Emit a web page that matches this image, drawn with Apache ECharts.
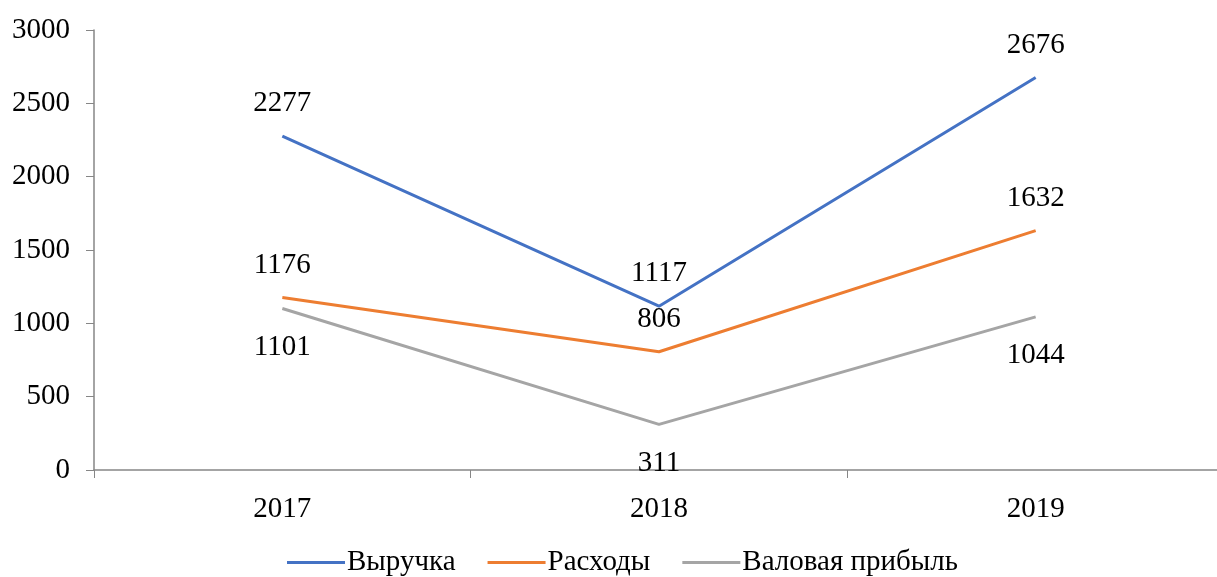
<!DOCTYPE html>
<html><head><meta charset="utf-8">
<script src="https://cdn.jsdelivr.net/npm/echarts@6/dist/echarts.min.js"></script>
<style>html,body{margin:0;padding:0;background:#fff;overflow:hidden;width:1217px;height:577px}#c{width:1230px;height:577px}</style>
</head><body><div id="c"></div>
<script>
const categories = ['2017', '2018', '2019'];
const revenue = [2277, 1117, 2676];
const expenses = [1176, 806, 1632];
const grossProfit = [1101, 311, 1044];
const yTicks = [0, 500, 1000, 1500, 2000, 2500, 3000];

const FONT = 'Liberation Serif';
const FS = 29;
const chart = echarts.init(document.getElementById('c'));
function s(name, data, color, pos, dist) {
  return {
    name, type: 'line', data, showSymbol: true, symbol: 'circle', symbolSize: 0.1,
    lineStyle: { color, width: 3 }, itemStyle: { color },
    label: { show: true, position: pos, distance: dist, color: '#000', fontFamily: FONT, fontSize: FS },
    emphasis: { disabled: true }, animation: false
  };
}
chart.setOption({
  animation: false,
  textStyle: { fontFamily: FONT },
  grid: { left: 94, right: 6, top: 30, height: 440, containLabel: false },
  legend: {
    top: 543, left: 282, itemWidth: 58, itemHeight: 3, itemGap: 32,
    icon: 'rect',
    textStyle: { fontFamily: FONT, fontSize: FS, color: '#000', padding: [0, 0, 0, -3] },
    data: ['Выручка', 'Расходы', 'Валовая прибыль']
  },
  xAxis: {
    type: 'category', data: categories, boundaryGap: true,
    axisLine: { lineStyle: { color: '#868686', width: 1.5 } },
    axisTick: { show: true, length: 8, lineStyle: { color: '#868686' } },
    axisLabel: { fontFamily: FONT, fontSize: FS, color: '#000', margin: 25 }
  },
  yAxis: {
    type: 'value', min: yTicks[0], max: yTicks[yTicks.length - 1], interval: 500,
    splitLine: { show: false },
    axisLine: { show: true, lineStyle: { color: '#868686', width: 1.5 } },
    axisTick: { show: true, length: 8, lineStyle: { color: '#868686' } },
    axisLabel: { fontFamily: FONT, fontSize: FS, color: '#000', margin: 24, formatter: v => String(v) }
  },
  series: [
    s('Выручка', revenue, '#4472C4', 'top', 18),
    s('Расходы', expenses, '#ED7D31', 'top', 18),
    s('Валовая прибыль', grossProfit, '#A5A5A5', 'bottom', 24)
  ]
});
</script></body></html>
